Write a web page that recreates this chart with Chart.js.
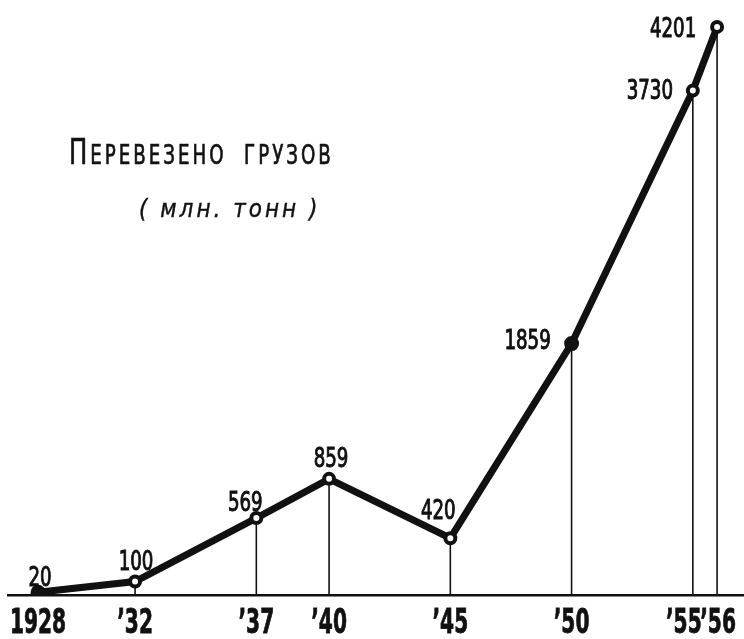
<!DOCTYPE html>
<html lang="ru">
<head>
<meta charset="utf-8">
<title>Перевезено грузов</title>
<script src="https://cdn.jsdelivr.net/npm/chart.js@4.4.1/dist/chart.umd.min.js"></script>
<style>
  html, body { margin: 0; padding: 0; background: #fff; }
  #wrap { position: relative; width: 744px; height: 639px; overflow: hidden; }
  #titulo {
    position: absolute; left: 69px; top: 134px; line-height: 1;
    font-family: 'DejaVu Sans Condensed', 'DejaVu Sans', sans-serif;
    font-size: 27px; letter-spacing: 4px; color: #111; white-space: nowrap;
    -webkit-text-stroke: 0.7px #111;
    transform: scaleX(0.75); transform-origin: 0 0;
  }
  #titulo .cap { font-size: 36px; }
  #sub {
    position: absolute; left: 139px; top: 197px; line-height: 1;
    font-family: 'DejaVu Sans Condensed', 'DejaVu Sans', sans-serif;
    font-style: italic; font-size: 24px; letter-spacing: 3px; color: #111; white-space: nowrap;
    -webkit-text-stroke: 0.4px #111;
  }
</style>
</head>
<body>
<div id="wrap">
  <canvas id="grafico" width="744" height="639"></canvas>
  <div id="titulo"><span class="cap">П</span>ЕРЕВЕЗЕНО&nbsp; ГРУЗОВ</div>
  <div id="sub">( млн. тонн )</div>
</div>
<script>
// Dados do gráfico
const anos = [1928, 1932, 1937, 1940, 1945, 1950, 1955, 1956];
const toneladas = [20, 100, 569, 859, 420, 1859, 3730, 4201];
const rotulosAnos = ['1928', '’32', '’37', '’40', '’45', '’50', '’55', '’56'];
const rotulosValores = ['20', '100', '569', '859', '420', '1859', '3730', '4201'];

// Pontos cheios (pretos) e deslocamento dos rótulos
const pontosCheios = [true, false, false, false, false, true, false, false];
const deslocRotulos = [[2, -16], [1, -21], [-11, -17], [2, -22], [-12, -29], [-44, -5], [-43, -2], [-44, 0]];
const deslocAnos = [0, 0, 0, 0, 0, 0, -9, 1];

const fonteNumeros = "'DejaVu Sans Condensed', 'DejaVu Sans', sans-serif";

// Texto estreito (comprimido na horizontal), com traço para engrossar
function textoEstreito(ctx, texto, x, y, escala, traco) {
  ctx.save();
  ctx.translate(x, y);
  ctx.scale(escala, 1);
  ctx.fillText(texto, 0, 0);
  if (traco) {
    ctx.lineWidth = traco;
    ctx.strokeText(texto, 0, 0);
  }
  ctx.restore();
}

// Linhas verticais dos pontos até a base
const linhasVerticais = {
  id: 'linhasVerticais',
  beforeDatasetsDraw(chart) {
    const ctx = chart.ctx;
    const meta = chart.getDatasetMeta(0);
    const base = chart.scales.y.getPixelForValue(0);
    ctx.save();
    ctx.strokeStyle = '#111';
    ctx.lineWidth = 1.6;
    meta.data.forEach((ponto, i) => {
      if (i === 0) return;
      ctx.beginPath();
      ctx.moveTo(ponto.x, ponto.y);
      ctx.lineTo(ponto.x, base);
      ctx.stroke();
    });
    ctx.restore();
  }
};

// Rótulos com os valores e com os anos
const rotulosPontos = {
  id: 'rotulosPontos',
  afterDatasetsDraw(chart) {
    const ctx = chart.ctx;
    const meta = chart.getDatasetMeta(0);
    const escalaX = chart.scales.x;
    ctx.save();
    ctx.fillStyle = '#111';
    ctx.strokeStyle = '#111';
    ctx.textAlign = 'center';
    ctx.textBaseline = 'alphabetic';

    ctx.font = '27px ' + fonteNumeros;
    meta.data.forEach((ponto, i) => {
      const d = deslocRotulos[i];
      textoEstreito(ctx, rotulosValores[i], ponto.x + d[0], ponto.y + d[1] + 10, 0.75, 1);
    });

    ctx.font = 'bold 34px ' + fonteNumeros;
    const yAnos = chart.chartArea.bottom + 38;
    anos.forEach((ano, i) => {
      textoEstreito(ctx, rotulosAnos[i], escalaX.getPixelForValue(ano) + deslocAnos[i], yAnos, 0.66, 0.8);
    });
    ctx.restore();
  }
};

const ctx = document.getElementById('grafico').getContext('2d');
const grafico = new Chart(ctx, {
  type: 'line',
  data: {
    datasets: [{
      data: anos.map((ano, i) => ({ x: ano, y: toneladas[i] })),
      borderColor: '#111',
      borderWidth: 7,
      tension: 0,
      pointRadius: ctx => pontosCheios[ctx.dataIndex] ? 6 : 5,
      pointBorderWidth: ctx => pontosCheios[ctx.dataIndex] ? 3 : 4,
      pointBorderColor: '#111',
      pointBackgroundColor: ctx => pontosCheios[ctx.dataIndex] ? '#111' : '#fff'
    }]
  },
  options: {
    responsive: false,
    animation: false,
    layout: { autoPadding: false, padding: { left: 8, right: 0, top: 0, bottom: 0 } },
    plugins: {
      legend: { display: false },
      tooltip: { enabled: false }
    },
    scales: {
      x: {
        type: 'linear',
        min: 1926.76,
        max: 1957.11,
        grid: { display: false, drawTicks: false },
        border: { display: true, color: '#111', width: 2.5 },
        afterFit: axis => { axis.height = 44; },
        ticks: { display: false }
      },
      y: {
        display: false,
        min: 0,
        max: 4400
      }
    }
  },
  plugins: [linhasVerticais, rotulosPontos]
});
</script>
</body>
</html>
